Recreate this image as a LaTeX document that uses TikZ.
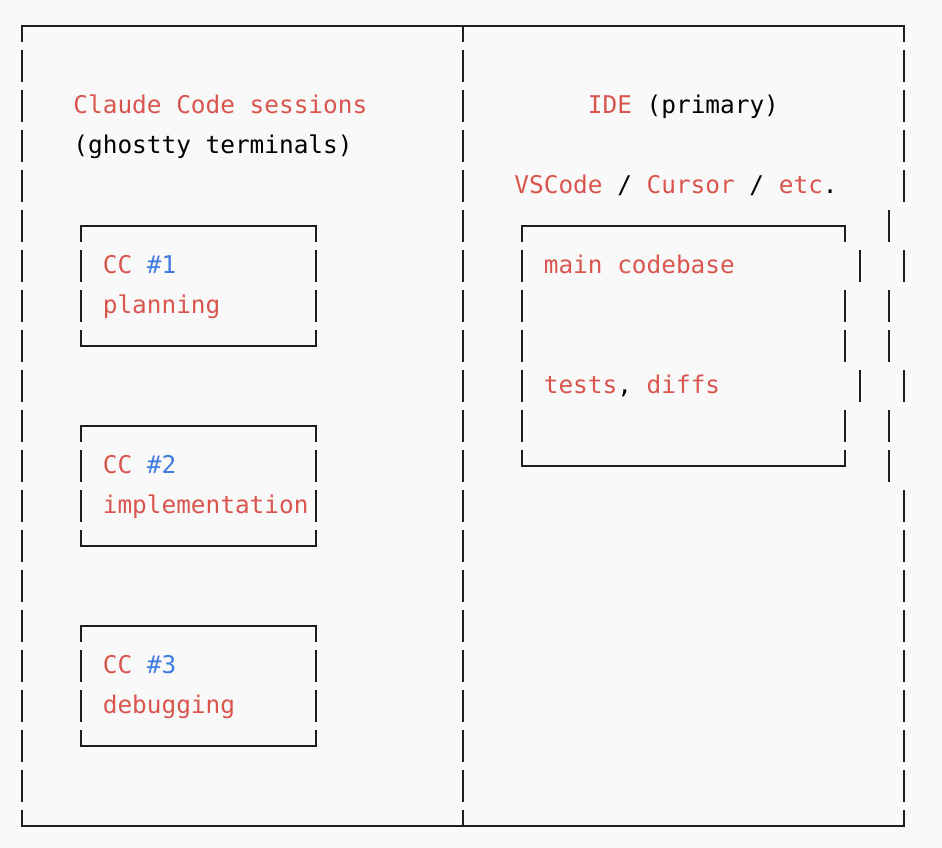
\documentclass[tikz,border=0pt]{standalone}
\usepackage{fontspec}
\newfontfamily\mono{DejaVu Sans Mono}
\definecolor{bgc}{HTML}{F9F9F9}
\definecolor{rd}{HTML}{D9564F}
\definecolor{bl}{HTML}{3F7BE0}
\definecolor{ink}{HTML}{1E1E1E}
% vertical segment of one text row
\newcommand\vseg[2]{\draw[frame] ({22+14.7*(#1)},{26+40*(#2)-16}) -- ({22+14.7*(#1)},{26+40*(#2)+16});}
% continuous dashed vertical from row a to row b at column c
\newcommand\vrun[3]{\draw[frame,vdash] ({22+14.7*(#1)},{26+40*(#2)}) -- ({22+14.7*(#1)},{26+40*(#3)});}
\begin{document}
\begin{tikzpicture}[x=1pt,y=-1pt,
  frame/.style={draw=ink,line width=2.3pt,line cap=butt},
  vdash/.style={dash pattern=on 32pt off 8pt,dash phase=16pt},
  txt/.style={anchor=base west,inner sep=0pt,outer sep=0pt,font=\mono\fontsize{24.4pt}{40pt}\selectfont},
  red/.style={text=rd}]
\fill[bgc] (0,0) rectangle (942,848);
\useasboundingbox (0,0) rectangle (942,848);
% ---- outer frame ----
\draw[frame] ({22},{26+16}) -- (22,26) -- ({22+14.7*60},26) -- ({22+14.7*60},{26+16});
\draw[frame] ({22},{26+800-16}) -- (22,826) -- ({22+14.7*60},826) -- ({22+14.7*60},{826-16});
\vrun{0}{0}{20}
\vrun{30}{0}{20}
% right border (as printed, partly shifted)
\foreach \r in {1,2,3,4,6,9,12,13,14,15,16,17,18,19} {\vseg{60}{\r}}
\foreach \r in {5,7,8,10,11} {\vseg{59}{\r}}
% ---- left session boxes ----
\foreach \t in {5,10,15} {
  \draw[frame] ({22+14.7*4},{26+40*\t+16}) -- ({22+14.7*4},{26+40*\t}) -- ({22+14.7*20},{26+40*\t}) -- ({22+14.7*20},{26+40*\t+16});
  \draw[frame] ({22+14.7*4},{26+40*(\t+3)-16}) -- ({22+14.7*4},{26+40*(\t+3)}) -- ({22+14.7*20},{26+40*(\t+3)}) -- ({22+14.7*20},{26+40*(\t+3)-16});
  \vseg{4}{\t+1}\vseg{4}{\t+2}\vseg{20}{\t+1}\vseg{20}{\t+2}
}
% ---- IDE inner box ----
\draw[frame] ({22+14.7*34},{26+40*5+16}) -- ({22+14.7*34},{26+40*5}) -- ({22+14.7*56},{26+40*5}) -- ({22+14.7*56},{26+40*5+16});
\draw[frame] ({22+14.7*34},{26+40*11-16}) -- ({22+14.7*34},{26+40*11}) -- ({22+14.7*56},{26+40*11}) -- ({22+14.7*56},{26+40*11-16});
\foreach \r in {6,7,8,9,10} {\vseg{34}{\r}}
\foreach \r in {7,8,10} {\vseg{56}{\r}}
\foreach \r in {6,9} {\vseg{57}{\r}}
% ---- texts ----
\node[txt,red] (ccs) at ({22+14.7*4-7.35},{26+40*2+7.5}) {Claude Code sessions};
\node[txt,text=black] (ght) at ({22+14.7*4-7.35},{26+40*3+7.5}) {(ghostty terminals)};
\node[txt,text=black] (ide) at ({22+14.7*39-7.35},{26+40*2+7.5}) {{\color{rd}IDE} (primary)};
\node[txt,text=black] (vsc) at ({22+14.7*34-7.35},{26+40*4+7.5}) {{\color{rd}VSCode} / {\color{rd}Cursor} / {\color{rd}etc}.};
\node[txt,red] (cc1) at ({22+14.7*6-7.35},{26+40*6+7.5}) {CC {\color{bl}\#1}};
\node[txt,red] (pl) at ({22+14.7*6-7.35},{26+40*7+7.5}) {planning};
\node[txt,red] (cc2) at ({22+14.7*6-7.35},{26+40*11+7.5}) {CC {\color{bl}\#2}};
\node[txt,red] (im) at ({22+14.7*6-7.35},{26+40*12+7.5}) {implementation};
\node[txt,red] (cc3) at ({22+14.7*6-7.35},{26+40*16+7.5}) {CC {\color{bl}\#3}};
\node[txt,red] (db) at ({22+14.7*6-7.35},{26+40*17+7.5}) {debugging};
\node[txt,red] (mc) at ({22+14.7*36-7.35},{26+40*6+7.5}) {main codebase};
\node[txt,red] (td) at ({22+14.7*36-7.35},{26+40*9+7.5}) {tests{\color{black},} diffs};
\end{tikzpicture}
\end{document}
